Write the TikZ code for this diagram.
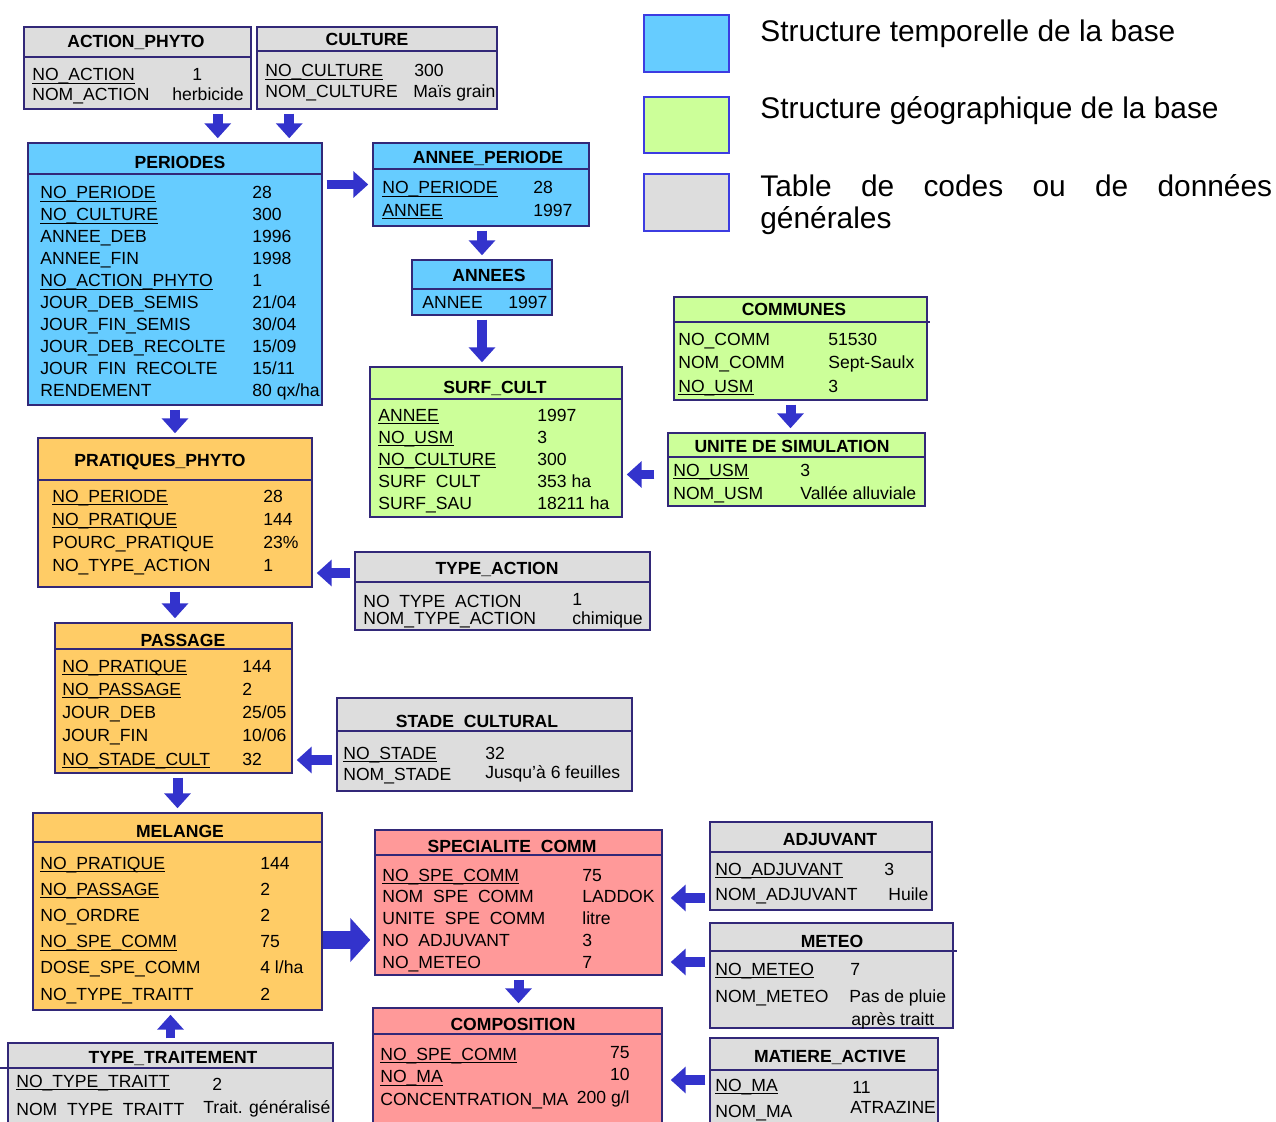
\documentclass[tikz,border=0pt]{standalone}
\usepackage{fontspec}
\setmainfont{Liberation Sans}
\usetikzlibrary{arrows.meta,fit}

\definecolor{tempblue}{RGB}{102,204,255}
\definecolor{geogreen}{RGB}{204,255,153}
\definecolor{codegray}{RGB}{221,221,221}
\definecolor{practorange}{RGB}{255,204,102}
\definecolor{prodpink}{RGB}{255,153,153}
\definecolor{tabedge}{RGB}{50,40,120}
\definecolor{linkblue}{RGB}{51,51,204}
\definecolor{legedge}{RGB}{60,60,225}

% blanc de la largeur d'un souligne
\newcommand{\blankus}{\hphantom{\_}}
% champ cle, souligne pres de la ligne de base
\newcommand{\keyfld}[1]{\underline{\vphantom{A}\smash{#1}}}

\tikzset{
  tbl/.style={draw=tabedge, line width=0.85pt, inner sep=0pt},
  ttl/.style={anchor=base, inner sep=0pt, font=\fontsize{10}{12}\selectfont\bfseries},
  fld/.style={anchor=base west, inner sep=0pt, font=\fontsize{10}{12}\selectfont},
  sep/.style={draw=tabedge, line width=0.85pt},
  link/.style={draw=linkblue, line width=0.2cm, -{Triangle[length=0.3cm,width=0.52cm]},
    shorten <=0.08cm, shorten >=0.08cm},
  biglink/.style={link, line width=0.36cm, -{Triangle[length=0.4cm,width=0.86cm]}, shorten <=0pt},
  legbox/.style={draw=legedge, line width=1.1pt, inner sep=0pt},
  legtxt/.style={anchor=base west, inner sep=0pt, font=\fontsize{17}{20}\selectfont}
}

\begin{document}
\begin{tikzpicture}[x=0.02cm, y=-0.02cm]
  \useasboundingbox (0,0) rectangle (1276,1122);
  \clip (0,0) rectangle (1276,1122);
  \fill[white] (0,0) rectangle (1276,1122);

  % legende
  \node[legbox, fill=tempblue, fit={(644,15) (729,72)}] (leg-temp) {};
  \node[legbox, fill=geogreen, fit={(644,97) (729,153)}] (leg-geo) {};
  \node[legbox, fill=codegray, fit={(644,174) (729,231)}] (leg-code) {};
  \node[legtxt] (leg-temp-t) at (760,42) {Structure temporelle de la base};
  \node[legtxt] (leg-geo-t) at (760,119) {Structure géographique de la base};
  \node[legtxt] (leg-code-t) at (760,196) {\makebox[10.24cm][s]{Table de codes ou de données}};
  \node[legtxt] (leg-code-t2) at (760,229) {générales};

  % ACTION_PHYTO
  \node[tbl, fill=codegray, fit={(24,27) (251,109)}] (actionphyto) {};
  \node[ttl] (actionphyto-t) at (136,48) {ACTION\_PHYTO};
  \draw[sep] (24,57) -- (251,57);
  \node[fld] (actionphyto-f1) at (32,81) {\keyfld{NO\_ACTION}};
  \node[fld] (actionphyto-f2) at (32,101) {NOM\_ACTION};
  \node[fld] (actionphyto-v1) at (192,81) {1};
  \node[fld] (actionphyto-v2) at (172,101) {herbicide};

  % CULTURE
  \node[tbl, fill=codegray, fit={(257,27) (497,109)}] (culture) {};
  \node[ttl] (culture-t) at (367,46) {CULTURE};
  \draw[sep] (257,51) -- (497,51);
  \node[fld] (culture-f1) at (265,77) {\keyfld{NO\_CULTURE}};
  \node[fld] (culture-f2) at (265,98) {NOM\_CULTURE};
  \node[fld] (culture-v1) at (414,77) {300};
  \node[fld] (culture-v2) at (413,98) {Maïs grain};

  % PERIODES
  \node[tbl, fill=tempblue, fit={(28,143) (322,405)}] (periodes) {};
  \node[ttl] (periodes-t) at (180,169) {PERIODES};
  \draw[sep] (28,174) -- (322,174);
  \foreach \f/\v [count=\i] in {{\keyfld{NO\_PERIODE}}/28,
      {\keyfld{NO\_CULTURE}}/300, ANNEE\_DEB/1996, ANNEE\_FIN/1998,
      {\keyfld{NO\_ACTION\_PHYTO}}/1, JOUR\_DEB\_SEMIS/{21/04},
      JOUR\_FIN\_SEMIS/{30/04}, JOUR\_DEB\_RECOLTE/{15/09},
      JOUR\blankus FIN\blankus RECOLTE/{15/11}, RENDEMENT/{80 qx/ha}} {
    \node[fld] (periodes-f\i) at (40,{177+22*\i}) {\f};
    \node[fld] (periodes-v\i) at (252,{177+22*\i}) {\v};
  }

  % ANNEE_PERIODE
  \node[tbl, fill=tempblue, fit={(373,143) (589,226)}] (anneeper) {};
  \node[ttl] (anneeper-t) at (488,164) {ANNEE\_PERIODE};
  \draw[sep] (373,169) -- (589,169);
  \foreach \f/\v [count=\i] in {{\keyfld{NO\_PERIODE}}/28, {\keyfld{ANNEE}}/1997} {
    \node[fld] (anneeper-f\i) at (382,{172+22*\i}) {\f};
    \node[fld] (anneeper-v\i) at (533,{172+22*\i}) {\v};
  }

  % ANNEES
  \node[tbl, fill=tempblue, fit={(412,260) (552,315)}] (annees) {};
  \node[ttl] (annees-t) at (489,281) {ANNEES};
  \draw[sep] (412,289) -- (552,289);
  \node[fld] (annees-f1) at (422,309) {ANNEE};
  \node[fld] (annees-v1) at (508,309) {1997};

  % SURF_CULT
  \node[tbl, fill=geogreen, fit={(370,367) (622,517)}] (surfcult) {};
  \node[ttl] (surfcult-t) at (495,393) {SURF\_CULT};
  \draw[sep] (369,399) -- (623,399);
  \foreach \f/\v [count=\i] in {{\keyfld{ANNEE}}/1997, {\keyfld{NO\_USM}}/3,
      {\keyfld{NO\_CULTURE}}/300, SURF\blankus CULT/353 ha, SURF\_SAU/18211 ha} {
    \node[fld] (surfcult-f\i) at (378,{399+22*\i}) {\f};
    \node[fld] (surfcult-v\i) at (537,{399+22*\i}) {\v};
  }

  % COMMUNES
  \node[tbl, fill=geogreen, fit={(674,297) (927,400)}] (communes) {};
  \node[ttl] (communes-t) at (794,316) {COMMUNES};
  \draw[sep] (674,322) -- (930,322);
  \foreach \f/\v [count=\i] in {NO\_COMM/51530, NOM\_COMM/Sept-Saulx, {\keyfld{NO\_USM}}/3} {
    \node[fld] (communes-f\i) at (678,{321.5+23.5*\i}) {\f};
    \node[fld] (communes-v\i) at (828,{321.5+23.5*\i}) {\v};
  }

  % UNITE DE SIMULATION
  \node[tbl, fill=geogreen, fit={(668,433) (925,506)}] (unite) {};
  \node[ttl] (unite-t) at (792,452) {UNITE DE SIMULATION};
  \draw[sep] (668,457) -- (925,457);
  \foreach \f/\v [count=\i] in {{\keyfld{NO\_USM}}/3, NOM\_USM/Vallée alluviale} {
    \node[fld] (unite-f\i) at (673,{453+23*\i}) {\f};
    \node[fld] (unite-v\i) at (800,{453+23*\i}) {\v};
  }

  % PRATIQUES_PHYTO
  \node[tbl, fill=practorange, fit={(38,438) (312,587)}] (pratiques) {};
  \node[ttl] (pratiques-t) at (160,466) {PRATIQUES\_PHYTO};
  \draw[sep] (38,480) -- (312,480);
  \foreach \f/\v [count=\i] in {{\keyfld{NO\_PERIODE}}/28, {\keyfld{NO\_PRATIQUE}}/144,
      POURC\_PRATIQUE/23\%, NO\_TYPE\_ACTION/1} {
    \node[fld] (pratiques-f\i) at (52,{478.7+23.3*\i}) {\f};
    \node[fld] (pratiques-v\i) at (263,{478.7+23.3*\i}) {\v};
  }

  % TYPE_ACTION
  \node[tbl, fill=codegray, fit={(355,552) (650,630)}] (typeaction) {};
  \node[ttl] (typeaction-t) at (497,574) {TYPE\_ACTION};
  \draw[sep] (355,582) -- (650,582);
  \node[fld] (typeaction-f1) at (363,607) {NO\blankus TYPE\blankus ACTION};
  \node[fld] (typeaction-f2) at (363,624) {NOM\_TYPE\_ACTION};
  \node[fld] (typeaction-v1) at (572,605) {1};
  \node[fld] (typeaction-v2) at (572,624) {chimique};

  % PASSAGE
  \node[tbl, fill=practorange, fit={(55,623) (292,773)}] (passage) {};
  \node[ttl] (passage-t) at (183,646) {PASSAGE};
  \draw[sep] (55,649) -- (292,649);
  \foreach \f/\v [count=\i] in {{\keyfld{NO\_PRATIQUE}}/144, {\keyfld{NO\_PASSAGE}}/2,
      JOUR\_DEB/{25/05}, JOUR\_FIN/{10/06}, {\keyfld{NO\_STADE\_CULT}}/32} {
    \node[fld] (passage-f\i) at (62,{648.7+23.3*\i}) {\f};
    \node[fld] (passage-v\i) at (242,{648.7+23.3*\i}) {\v};
  }

  % STADE CULTURAL
  \node[tbl, fill=codegray, fit={(337,698) (632,791)}] (stade) {};
  \node[ttl] (stade-t) at (477,727) {STADE\blankus CULTURAL};
  \draw[sep] (337,731) -- (632,731);
  \node[fld] (stade-f1) at (343,759) {\keyfld{NO\_STADE}};
  \node[fld] (stade-f2) at (343,780) {NOM\_STADE};
  \node[fld] (stade-v1) at (485,759) {32};
  \node[fld] (stade-v2) at (485,778) {Jusqu'à 6 feuilles};

  % MELANGE
  \node[tbl, fill=practorange, fit={(33,813) (322,1010)}] (melange) {};
  \node[ttl] (melange-t) at (180,837) {MELANGE};
  \draw[sep] (33,842) -- (322,842);
  \foreach \f/\v [count=\i] in {{\keyfld{NO\_PRATIQUE}}/144, {\keyfld{NO\_PASSAGE}}/2,
      NO\_ORDRE/2, {\keyfld{NO\_SPE\_COMM}}/75, DOSE\_SPE\_COMM/{4 l/ha},
      NO\_TYPE\_TRAITT/2} {
    \node[fld] (melange-f\i) at (40,{842.8+26.2*\i}) {\f};
    \node[fld] (melange-v\i) at (260,{842.8+26.2*\i}) {\v};
  }

  % TYPE_TRAITEMENT
  \node[tbl, fill=codegray, fit={(8,1043) (333,1135)}] (typetrait) {};
  \node[ttl] (typetrait-t) at (173,1063) {TYPE\_TRAITEMENT};
  \draw[sep] (0,1068) -- (333,1068);
  \node[fld] (typetrait-f1) at (16,1087) {\keyfld{NO\_TYPE\_TRAITT}};
  \node[fld] (typetrait-f2) at (16,1115) {NOM\blankus TYPE\blankus TRAITT};
  \node[fld] (typetrait-v1) at (212,1090) {2};
  \node[fld] (typetrait-v2) at (203,1113) {Trait. généralisé};

  % SPECIALITE COMM
  \node[tbl, fill=prodpink, fit={(375,830) (662,975)}] (specialite) {};
  \node[ttl] (specialite-t) at (512,852) {SPECIALITE\blankus COMM};
  \draw[sep] (375,855) -- (662,855);
  \foreach \f/\v [count=\i] in {{\keyfld{NO\_SPE\_COMM}}/75,
      NOM\blankus SPE\blankus COMM/LADDOK, UNITE\blankus SPE\blankus COMM/litre,
      NO\blankus ADJUVANT/3, NO\_METEO/7} {
    \node[fld] (specialite-f\i) at (382,{859.25+21.75*\i}) {\f};
    \node[fld] (specialite-v\i) at (582,{859.25+21.75*\i}) {\v};
  }

  % COMPOSITION
  \node[tbl, fill=prodpink, fit={(373,1008) (662,1135)}] (composition) {};
  \node[ttl] (composition-t) at (513,1030) {COMPOSITION};
  \draw[sep] (373,1034) -- (662,1034);
  \foreach \f/\v [count=\i] in {{\keyfld{NO\_SPE\_COMM}}/75, {\keyfld{NO\_MA}}/10,
      CONCENTRATION\_MA/{200 g/l}} {
    \node[fld] (composition-f\i) at (380,{1037.5+22.5*\i}) {\f};
    \node[fld, anchor=base east] (composition-v\i) at (630,{1035.5+22.5*\i}) {\v};
  }

  % ADJUVANT
  \node[tbl, fill=codegray, fit={(710,822) (932,910)}] (adjuvant) {};
  \node[ttl] (adjuvant-t) at (830,845) {ADJUVANT};
  \draw[sep] (710,852) -- (932,852);
  \node[fld] (adjuvant-f1) at (715,875) {\keyfld{NO\_ADJUVANT}};
  \node[fld] (adjuvant-f2) at (715,900) {NOM\_ADJUVANT};
  \node[fld] (adjuvant-v1) at (884,875) {3};
  \node[fld] (adjuvant-v2) at (888,900) {Huile};

  % METEO
  \node[tbl, fill=codegray, fit={(710,923) (953,1028)}] (meteo) {};
  \node[ttl] (meteo-t) at (832,947) {METEO};
  \draw[sep] (710,951) -- (957,951);
  \node[fld] (meteo-f1) at (715,975) {\keyfld{NO\_METEO}};
  \node[fld] (meteo-f2) at (715,1002) {NOM\_METEO};
  \node[fld] (meteo-v1) at (850,975) {7};
  \node[fld] (meteo-v2) at (849,1002) {Pas de pluie};
  \node[fld] (meteo-v3) at (851,1025) {après traitt};

  % MATIERE_ACTIVE
  \node[tbl, fill=codegray, fit={(710,1038) (938,1135)}] (matiere) {};
  \node[ttl] (matiere-t) at (830,1062) {MATIERE\_ACTIVE};
  \draw[sep] (710,1070) -- (938,1070);
  \node[fld] (matiere-f1) at (715,1091) {\keyfld{NO\_MA}};
  \node[fld] (matiere-f2) at (715,1117) {NOM\_MA};
  \node[fld] (matiere-v1) at (852,1093) {11};
  \node[fld] (matiere-v2) at (850,1113) {ATRAZINE};

  % liens
  \coordinate (ap-out) at ([xshift=-0.68cm]actionphyto.south east);
  \coordinate (cu-out) at ([xshift=0.66cm]culture.south west);
  \coordinate (co-out) at ([xshift=-0.2cm]communes.south);
  \coordinate (us-out) at ([yshift=-0.1cm]unite.west);
  \coordinate (ta-out) at ([yshift=0.36cm]typeaction.west);
  \coordinate (sc-out) at ([yshift=-0.31cm]stade.west);
  \coordinate (me-out) at ([yshift=-0.57cm]melange.east);
  \coordinate (ad-out) at ([yshift=-0.64cm]adjuvant.west);
  \coordinate (mt-out) at ([yshift=0.27cm]meteo.west);
  \coordinate (ma-out) at ([yshift=0.13cm]matiere.west);

  \draw[link] (ap-out) -- (ap-out |- periodes.north);
  \draw[link] (cu-out) -- (cu-out |- periodes.north);
  \draw[link] (periodes.east |- anneeper.west) -- (anneeper.west);
  \draw[link] (anneeper.south -| annees.north) -- (annees.north);
  \draw[link] (annees.south) -- (annees.south |- surfcult.north);
  \draw[link] (co-out) -- (co-out |- unite.north);
  \draw[link, shorten <=0.26cm] (us-out) -- (us-out -| surfcult.east);
  \draw[link] (periodes.south) -- (periodes.south |- pratiques.north);
  \draw[link] (ta-out) -- (ta-out -| pratiques.east);
  \draw[link] (pratiques.south) -- (pratiques.south |- passage.north);
  \draw[link] (sc-out) -- (sc-out -| passage.east);
  \draw[link] (melange.north |- passage.south) -- (melange.north);
  \draw[biglink] (me-out) -- (me-out -| specialite.west);
  \draw[link] (typetrait.north) -- (typetrait.north |- melange.south);
  \draw[link] (specialite.south) -- (specialite.south |- composition.north);
  \draw[link, shorten >=0.16cm] (ad-out) -- (ad-out -| specialite.east);
  \draw[link, shorten >=0.16cm] (mt-out) -- (mt-out -| specialite.east);
  \draw[link, shorten >=0.16cm] (ma-out) -- (ma-out -| composition.east);
\end{tikzpicture}
\end{document}
